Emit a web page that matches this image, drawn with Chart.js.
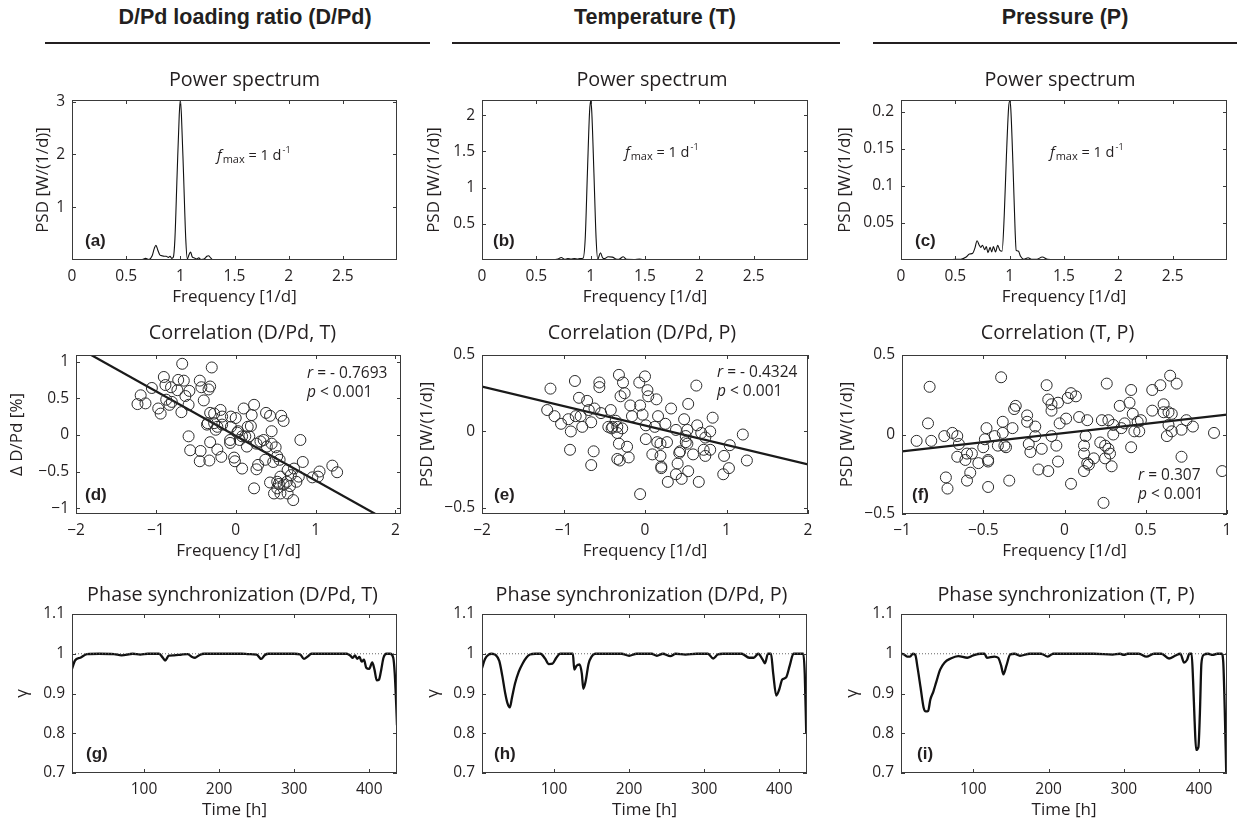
<!DOCTYPE html>
<html><head><meta charset="utf-8">
<script src="https://cdn.jsdelivr.net/npm/chart.js@4/dist/chart.umd.min.js"></script>
<style>
body{margin:0;background:#fff;width:1244px;height:820px;overflow:hidden;position:relative}
.hdr{position:absolute;top:5px;line-height:24px;font:bold 21.5px 'Liberation Sans',Arial,sans-serif;color:#231f20;transform:translateX(-50%);white-space:nowrap}
.rule{position:absolute;top:42px;height:2px;background:#231f20}
canvas{position:absolute}
</style></head><body>
<div class="hdr" style="left:245px">D/Pd loading ratio (D/Pd)</div>
<div class="hdr" style="left:655px">Temperature (T)</div>
<div class="hdr" style="left:1065px">Pressure (P)</div>
<div class="rule" style="left:45px;width:385px"></div>
<div class="rule" style="left:452px;width:388px"></div>
<div class="rule" style="left:873px;width:364px"></div>
<script>
// ---------- DATA ----------
const psdFreqTicks = [0, 0.5, 1, 1.5, 2, 2.5];
const psdTicksA = [1, 2, 3];
const psdTicksB = [0.5, 1, 1.5, 2];
const psdTicksC = [0.05, 0.1, 0.15, 0.2];
const corrTicksX2 = [-2, -1, 0, 1, 2];
const corrTicksX1 = [-1, -0.5, 0, 0.5, 1];
const corrTicksYD = [-1, -0.5, 0, 0.5, 1];
const corrTicksY5 = [-0.5, 0, 0.5];
const timeTicks = [100, 200, 300, 400];
const gammaTicks = [0.7, 0.8, 0.9, 1, 1.1];

// power spectra [frequency, PSD]
const psdA = [[0,0],[0.1,0],[0.2,0],[0.3,0.004],[0.33,0.01],[0.36,0.004],[0.42,0.002],[0.5,0.008],[0.55,0.003],[0.6,0.002],[0.65,0.01],[0.68,0.03],[0.71,0.01],[0.74,0.08],[0.76,0.22],[0.775,0.28],[0.79,0.2],[0.81,0.1],[0.83,0.08],[0.85,0.07],[0.87,0.07],[0.89,0.05],[0.905,0.07],[0.92,0.03],[0.935,0.05],[0.95,0.4],[0.97,1.6],[0.99,2.75],[1.0,3.03],[1.01,2.75],[1.03,1.6],[1.05,0.4],[1.065,0.02],[1.08,0.1],[1.095,0.15],[1.11,0.06],[1.13,0.04],[1.15,0.02],[1.17,0.04],[1.19,0.01],[1.22,0.02],[1.245,0.07],[1.26,0.08],[1.28,0.04],[1.3,0.005],[1.35,0.002],[1.45,0.01],[1.5,0.002],[1.6,0.01],[1.65,0.003],[1.7,0.008],[1.8,0.005],[1.85,0.001],[1.9,0],[2.0,0],[2.5,0],[3.0,0]];
const psdB = [[0,0],[0.2,0],[0.3,0.003],[0.4,0.001],[0.5,0.005],[0.55,0.002],[0.6,0.006],[0.65,0.004],[0.7,0.015],[0.73,0.035],[0.76,0.01],[0.79,0.02],[0.82,0.012],[0.85,0.02],[0.88,0.012],[0.9,0.02],[0.93,0.025],[0.95,0.3],[0.97,1.2],[0.99,2.05],[1.0,2.2],[1.01,2.05],[1.03,1.2],[1.05,0.3],[1.065,0.01],[1.09,0.1],[1.11,0.03],[1.13,0.02],[1.16,0.045],[1.2,0.04],[1.23,0.015],[1.26,0.01],[1.3,0.045],[1.33,0.008],[1.4,0.006],[1.45,0.012],[1.5,0.002],[1.6,0],[2,0],[3,0]];
const psdC = [[0,0],[0.3,0],[0.45,0.0005],[0.5,0.001],[0.55,0.001],[0.6,0.004],[0.63,0.008],[0.66,0.009],[0.68,0.016],[0.70,0.026],[0.72,0.02],[0.735,0.017],[0.75,0.02],[0.77,0.014],[0.785,0.018],[0.80,0.01],[0.82,0.017],[0.835,0.011],[0.85,0.018],[0.87,0.011],[0.89,0.02],[0.91,0.013],[0.93,0.012],[0.95,0.06],[0.97,0.14],[0.99,0.205],[1.0,0.215],[1.01,0.205],[1.03,0.13],[1.05,0.04],[1.06,0.013],[1.08,0.012],[1.1,0.005],[1.13,0.001],[1.17,0.003],[1.2,0.001],[1.25,0.001],[1.3,0.004],[1.35,0.001],[1.5,0],[3,0]];

// correlations [x, y]
const corrD = [[-0.67,0.97],[-0.30,0.92],[-0.90,0.79],[-0.72,0.75],[-0.65,0.74],[-0.45,0.74],[-1.05,0.64],[-0.88,0.68],[-0.81,0.65],[-0.73,0.61],[-0.58,0.60],[-0.43,0.65],[-0.34,0.62],[-0.32,0.66],[-1.19,0.54],[-1.23,0.42],[-1.13,0.43],[-0.97,0.36],[-0.94,0.29],[-0.87,0.48],[-0.83,0.41],[-0.80,0.45],[-0.63,0.53],[-0.59,0.41],[-0.68,0.31],[-0.40,0.47],[-0.32,0.30],[-0.27,0.29],[-0.19,0.34],[-0.17,0.25],[-0.06,0.25],[0.0,0.23],[0.10,0.36],[0.23,0.41],[0.20,0.27],[-0.35,0.16],[-0.27,0.16],[-0.36,0.14],[-0.23,0.11],[-0.17,0.14],[-0.25,0.07],[-0.06,0.11],[0.03,0.05],[0.15,0.11],[0.19,0.12],[0.38,0.30],[0.43,0.26],[0.57,0.26],[0.60,0.19],[0.45,0.05],[-0.59,-0.02],[-0.32,-0.10],[-0.07,-0.07],[-0.07,-0.11],[0.02,0.03],[0.12,-0.02],[0.17,-0.02],[0.14,-0.16],[0.26,-0.12],[0.35,-0.07],[0.39,-0.16],[0.45,-0.12],[0.50,-0.17],[0.81,-0.07],[-0.57,-0.21],[-0.44,-0.22],[-0.23,-0.20],[-0.18,-0.30],[-0.45,-0.36],[-0.33,-0.35],[-0.02,-0.31],[-0.01,-0.36],[0.08,-0.46],[0.28,-0.41],[0.26,-0.47],[0.37,-0.34],[0.47,-0.37],[0.52,-0.29],[0.55,-0.34],[0.65,-0.48],[0.69,-0.55],[0.73,-0.46],[0.79,-0.57],[0.84,-0.37],[0.76,-0.64],[0.64,-0.64],[0.56,-0.57],[0.54,-0.67],[0.43,-0.65],[0.52,-0.73],[0.48,-0.80],[0.56,-0.80],[0.65,-0.80],[0.72,-0.89],[0.23,-0.73],[0.60,-0.68],[0.52,-0.64],[0.96,-0.58],[1.05,-0.50],[1.03,-0.57],[1.21,-0.42],[1.27,-0.51],[0.68,-0.70],[0.08,-0.02],[0.05,-0.07],[0.31,-0.09]];
const corrE = [[-1.16,0.28],[-1.20,0.14],[-1.11,0.10],[-1.03,0.05],[-0.94,0.08],[-0.91,0.0],[-0.92,-0.12],[-0.86,0.33],[-0.85,0.10],[-0.81,0.22],[-0.79,0.10],[-0.77,0.03],[-0.71,0.20],[-0.69,0.14],[-0.66,0.06],[-0.63,-0.13],[-0.66,-0.22],[-0.62,0.15],[-0.56,0.32],[-0.56,0.29],[-0.54,0.12],[-0.45,0.03],[-0.42,0.14],[-0.40,0.03],[-0.41,0.02],[-0.36,0.07],[-0.34,0.03],[-0.34,-0.01],[-0.32,-0.08],[-0.34,-0.18],[-0.31,-0.19],[-0.32,0.37],[-0.27,0.32],[-0.30,0.23],[-0.25,0.25],[-0.28,0.02],[-0.22,-0.10],[-0.20,-0.17],[-0.18,0.17],[-0.16,0.10],[-0.06,0.17],[-0.07,0.32],[0.0,0.36],[0.03,0.27],[0.04,0.23],[-0.03,0.11],[0.01,0.04],[0.01,-0.05],[-0.06,-0.41],[0.09,-0.15],[0.14,0.21],[0.16,0.10],[0.12,0.03],[0.15,-0.07],[0.19,-0.08],[0.19,-0.16],[0.20,-0.23],[0.20,-0.24],[0.25,0.05],[0.27,-0.07],[0.28,-0.33],[0.32,0.15],[0.38,0.01],[0.40,-0.21],[0.42,-0.14],[0.43,-0.13],[0.45,-0.31],[0.38,-0.28],[0.48,0.08],[0.50,-0.03],[0.50,-0.07],[0.52,-0.08],[0.52,0.01],[0.53,-0.26],[0.59,-0.15],[0.53,0.18],[0.63,0.30],[0.64,0.04],[0.66,-0.33],[0.69,-0.01],[0.72,-0.12],[0.74,-0.16],[0.74,-0.04],[0.80,0.00],[0.80,-0.12],[0.83,0.09],[0.96,-0.28],[0.97,-0.16],[1.03,-0.24],[1.04,-0.09],[1.20,-0.02],[1.25,-0.19]];
const corrF = [[-0.91,-0.04],[-0.83,0.30],[-0.84,0.07],[-0.82,-0.04],[-0.74,-0.01],[-0.73,-0.27],[-0.72,-0.34],[-0.69,0.01],[-0.66,-0.01],[-0.65,-0.06],[-0.66,-0.14],[-0.61,-0.16],[-0.60,-0.29],[-0.60,-0.12],[-0.57,-0.12],[-0.58,-0.24],[-0.53,-0.18],[-0.50,-0.08],[-0.49,-0.03],[-0.48,0.04],[-0.47,-0.16],[-0.47,-0.33],[-0.47,-0.17],[-0.43,-0.01],[-0.41,-0.07],[-0.39,0.36],[-0.38,0.08],[-0.38,0.01],[-0.37,-0.07],[-0.36,-0.08],[-0.34,-0.29],[-0.32,0.04],[-0.31,0.16],[-0.30,0.18],[-0.23,0.12],[-0.23,0.08],[-0.22,-0.06],[-0.21,-0.11],[-0.18,0.05],[-0.18,-0.01],[-0.16,-0.22],[-0.14,-0.09],[-0.11,0.31],[-0.10,0.22],[-0.10,-0.23],[-0.08,0.19],[-0.08,0.15],[-0.08,-0.01],[-0.05,-0.07],[-0.04,-0.17],[-0.04,0.20],[-0.03,0.07],[0.01,0.10],[0.02,0.23],[0.04,0.26],[0.04,-0.31],[0.07,0.24],[0.09,0.11],[0.12,-0.07],[0.12,-0.12],[0.12,-0.23],[0.13,-0.01],[0.14,0.09],[0.14,-0.18],[0.15,-0.19],[0.18,-0.15],[0.22,-0.05],[0.23,0.09],[0.24,-0.43],[0.25,-0.07],[0.25,-0.15],[0.26,0.32],[0.27,0.09],[0.27,-0.09],[0.28,-0.12],[0.29,-0.20],[0.30,0.0],[0.30,0.06],[0.34,0.18],[0.35,0.04],[0.37,0.07],[0.40,0.20],[0.41,0.28],[0.41,-0.08],[0.42,0.13],[0.43,0.02],[0.45,0.08],[0.46,0.02],[0.47,0.09],[0.54,0.28],[0.54,0.15],[0.59,0.31],[0.61,0.19],[0.61,0.14],[0.63,-0.01],[0.64,0.06],[0.64,0.14],[0.65,0.37],[0.66,0.13],[0.66,0.02],[0.69,0.32],[0.72,-0.14],[0.72,0.03],[0.75,0.09],[0.79,0.05],[0.92,0.01],[0.97,-0.23]];
// fitted regression lines, visible end points [x, y]
const fitD = [[-1.81,1.09],[1.75,-1.08]];
const fitE = [[-2,0.294],[2,-0.216]];
const fitF = [[-1,-0.106],[1,0.125]];

// phase synchronization [time h, gamma]
const syncG = [[4,0.962],[8,0.983],[15,0.99],[24,0.999],[40,1.0],[60,0.999],[70,0.996],[85,1.0],[95,0.998],[105,1.0],[120,1.0],[125,0.99],[128,0.983],[133,0.995],[140,0.996],[150,0.998],[158,0.999],[164,0.992],[168,0.99],[174,0.997],[180,1.0],[230,1.0],[240,0.999],[250,0.998],[256,0.987],[261,0.997],[266,1.0],[300,1.0],[308,0.998],[313,0.987],[318,0.993],[323,1.0],[370,1.0],[375,0.995],[378,0.99],[381,0.996],[384,0.987],[387,0.992],[390,0.98],[393,0.985],[396,0.965],[400,0.962],[404,0.978],[407,0.96],[410,0.933],[413,0.935],[416,0.96],[419,0.99],[423,1.0],[428,1.0],[432,0.99],[434,0.95],[436,0.87],[437,0.82]];
const syncH = [[4,0.964],[8,0.987],[13,0.998],[17,1.0],[22,0.997],[27,0.982],[31,0.945],[35,0.9],[38,0.875],[41,0.865],[44,0.89],[48,0.925],[53,0.955],[58,0.975],[63,0.99],[68,0.998],[75,1.0],[82,1.0],[88,0.988],[93,0.974],[98,0.975],[103,0.99],[108,1.0],[118,1.0],[125,1.0],[127,0.96],[130,0.97],[134,0.973],[137,0.95],[139,0.912],[142,0.93],[146,0.975],[150,0.993],[155,1.0],[190,1.0],[200,0.995],[210,1.0],[230,1.0],[237,0.995],[245,1.0],[255,0.994],[262,1.0],[275,0.998],[290,1.0],[305,1.0],[312,0.988],[318,0.998],[325,1.0],[350,1.0],[360,0.99],[366,0.99],[372,1.0],[378,0.985],[381,0.976],[385,1.0],[389,1.0],[392,0.95],[396,0.895],[400,0.91],[404,0.935],[409,0.94],[414,0.97],[419,1.0],[432,1.0],[434,0.95],[436,0.8]];
const syncI = [[4,1.0],[8,0.998],[12,0.993],[16,0.993],[20,1.0],[23,0.997],[26,0.965],[30,0.915],[34,0.865],[37,0.855],[40,0.856],[43,0.885],[47,0.905],[51,0.93],[56,0.96],[62,0.978],[70,0.988],[80,0.994],[92,0.99],[100,0.996],[110,1.0],[115,1.0],[118,0.99],[128,0.993],[133,0.99],[137,0.97],[140,0.948],[144,0.97],[149,0.998],[155,1.0],[162,0.995],[175,1.0],[190,1.0],[199,0.993],[206,1.0],[260,1.0],[285,0.998],[295,1.0],[300,0.997],[305,1.0],[320,1.0],[330,0.993],[340,1.0],[350,1.0],[360,0.988],[368,0.995],[375,1.0],[380,0.978],[384,0.985],[387,1.0],[390,1.0],[392,0.93],[394,0.83],[396,0.758],[399,0.765],[401,0.85],[403,0.975],[406,0.997],[412,1.0],[418,0.997],[424,1.0],[430,1.0],[432,0.98],[434,0.86],[436,0.7]];
const syncRef = [[4,1],[437,1]];

// ---------- RENDERING ----------
const FONT = "'Open Sans', sans-serif";
const INK = '#231f20';
const TICK_PX = 15.5, AXT_PX = 17, TITLE_PX = 19.8, NOTE_PX = 15.5;
Chart.defaults.font.family = FONT;
Chart.defaults.font.size = TICK_PX;
Chart.defaults.color = INK;

const pts = a => a.map(p => ({x: p[0], y: p[1]}));
const fmt = v => String(+(+v).toFixed(3)).replace('-', '\u2212');

function drawFmax(ctx, x, y) {
  ctx.textAlign = 'left'; ctx.textBaseline = 'alphabetic';
  ctx.font = "italic 15px " + FONT; ctx.fillText('f', x, y); x += ctx.measureText('f').width + 1;
  ctx.font = "11px " + FONT; ctx.fillText('max', x, y + 3); x += ctx.measureText('max').width;
  ctx.font = "14.5px " + FONT; ctx.fillText(' = 1 d', x, y); x += ctx.measureText(' = 1 d').width + 1;
  ctx.font = "9px " + FONT; ctx.fillText('-1', x, y - 7);
}
function drawRP(ctx, x, y, rtxt) {
  ctx.textAlign = 'left'; ctx.textBaseline = 'alphabetic';
  const f = NOTE_PX + "px " + FONT;
  ctx.font = "italic " + f; ctx.fillText('r', x, y); let w = ctx.measureText('r').width;
  ctx.font = f; ctx.fillText(rtxt, x + w, y);
  ctx.font = "italic " + f; ctx.fillText('p', x, y + 19); w = ctx.measureText('p').width;
  ctx.font = f; ctx.fillText(' < 0.001', x + w, y + 19);
}

const framePlugin = {
  id: 'frame',
  afterDraw(chart, args, o) {
    const {ctx, chartArea: a, scales: {x, y}} = chart;
    ctx.save();
    ctx.strokeStyle = '#3a3a3a'; ctx.lineWidth = 1;
    ctx.beginPath();
    x.ticks.forEach(t => { const px = Math.round(x.getPixelForValue(t.value)) + 0.5;
      ctx.moveTo(px, a.bottom); ctx.lineTo(px, a.bottom - 4); ctx.moveTo(px, a.top); ctx.lineTo(px, a.top + 4); });
    y.ticks.forEach(t => { const py = Math.round(y.getPixelForValue(t.value)) + 0.5;
      ctx.moveTo(a.left, py); ctx.lineTo(a.left + 4, py); ctx.moveTo(a.right, py); ctx.lineTo(a.right - 4, py); });
    ctx.stroke();
    ctx.strokeRect(Math.round(a.left) + 0.5, Math.round(a.top) + 0.5, Math.round(a.width) - 1, Math.round(a.height) - 1);
    ctx.fillStyle = INK;
    ctx.font = TITLE_PX + "px " + FONT; ctx.textAlign = 'center'; ctx.textBaseline = 'middle';
    ctx.fillText(o.title, (a.left + a.right) / 2 + o.titleDx, a.top - o.titleDy);
    ctx.font = "bold 17px 'Liberation Sans', Arial, sans-serif"; ctx.textAlign = 'left';
    ctx.fillText(o.letter, a.left + o.letterDx, a.bottom - 19);
    if (o.fmax) drawFmax(ctx, a.left + o.fmax[0], a.top + o.fmax[1]);
    if (o.rp) drawRP(ctx, a.right + o.rp[0], a.top + o.rp[1], o.rp[2]);
    ctx.restore();
  }
};

function panel(p) {
  const [cl, ct, cw, ch] = p.canvas;
  const [pl, pt, pr, pb] = p.plot;
  const HX = 47;
  const cv = document.createElement('canvas');
  cv.width = cw; cv.height = ch;
  cv.style.left = cl + 'px'; cv.style.top = ct + 'px';
  cv.style.width = cw + 'px'; cv.style.height = ch + 'px';
  document.body.appendChild(cv);
  const tickSet = arr => s => { s.ticks = arr.map(v => ({value: v})); };
  const half = AXT_PX * 1.2 / 2;
  new Chart(cv, {
    type: 'line',
    data: {datasets: p.datasets},
    options: {
      responsive: false, animation: false, devicePixelRatio: 1,
      layout: {padding: {left: 0, top: pt - ct, right: cl + cw - pr, bottom: ct + ch - pb - HX}},
      plugins: {legend: {display: false}, tooltip: {enabled: false}, frame: p.frame},
      scales: {
        x: {type: 'linear', min: p.x[0], max: p.x[1],
            afterBuildTicks: tickSet(p.xt), afterFit: s => { s.height = HX; },
            grid: {display: false, drawTicks: false}, border: {display: false},
            ticks: {padding: 7, autoSkip: false, maxRotation: 0, callback: v => fmt(v), color: INK},
            title: {display: true, text: p.xTitle, color: INK, font: {size: AXT_PX}, padding: {top: 0, bottom: 0}}},
        y: {type: 'linear', min: p.y[0], max: p.y[1],
            afterBuildTicks: tickSet(p.yt), afterFit: s => { s.width = pl - cl; },
            grid: {display: false, drawTicks: false}, border: {display: false},
            ticks: {padding: 7, autoSkip: false, callback: v => fmt(v), color: INK},
            title: {display: true, text: p.yTitle, color: INK, font: {size: AXT_PX}, padding: {top: p.ytc - cl - half, bottom: 0}}}
      }
    },
    plugins: [framePlugin]
  });
}

const thin = d => ({data: pts(d), borderColor: '#111', borderWidth: 1.1, pointRadius: 0, cubicInterpolationMode: 'monotone', fill: false});
const thick = d => ({data: pts(d), borderColor: '#111', borderWidth: 2.3, pointRadius: 0, cubicInterpolationMode: 'monotone', fill: false});
const dots = d => ({type: 'scatter', data: pts(d), showLine: false, pointRadius: 5.5, pointStyle: 'circle', backgroundColor: 'rgba(0,0,0,0)', borderColor: '#2a2a2a', borderWidth: 1});
const fit = d => ({data: pts(d), borderColor: '#1a1a1a', borderWidth: 2.2, pointRadius: 0, tension: 0});
const ref = d => ({data: pts(d), borderColor: '#666', borderWidth: 1, borderDash: [1, 2], pointRadius: 0, tension: 0});

const PSD = 'PSD [W/(1/d)]', FREQ = 'Frequency [1/d]', TIME = 'Time [h]';

panel({canvas: [0, 60, 415, 250], plot: [72, 100, 397, 260], x: [0, 3], y: [0, 3.03], xt: psdFreqTicks, yt: psdTicksA,
  xTitle: FREQ, yTitle: PSD, ytc: 43, datasets: [thin(psdA)],
  frame: {title: 'Power spectrum', titleDx: 10, titleDy: 20, letter: '(a)', letterDx: 13, fmax: [145, 60]}});
panel({canvas: [415, 60, 415, 250], plot: [482, 100, 808, 260], x: [0, 3], y: [0, 2.21], xt: psdFreqTicks, yt: psdTicksB,
  xTitle: FREQ, yTitle: PSD, ytc: 434, datasets: [thin(psdB)],
  frame: {title: 'Power spectrum', titleDx: 7, titleDy: 20, letter: '(b)', letterDx: 11, fmax: [143, 57]}});
panel({canvas: [830, 60, 414, 250], plot: [901, 100, 1227, 260], x: [0, 3], y: [0, 0.216], xt: psdFreqTicks, yt: psdTicksC,
  xTitle: FREQ, yTitle: PSD, ytc: 845, datasets: [thin(psdC)],
  frame: {title: 'Power spectrum', titleDx: -4, titleDy: 20, letter: '(c)', letterDx: 14, fmax: [149, 57]}});

panel({canvas: [0, 310, 415, 255], plot: [76, 355, 401, 514], x: [-2, 2.07], y: [-1.08, 1.09], xt: corrTicksX2, yt: corrTicksYD,
  xTitle: FREQ, yTitle: '\u0394 D/Pd [%]', ytc: 17, datasets: [dots(corrD), fit(fitD)],
  frame: {title: 'Correlation (D/Pd, T)', titleDx: 4, titleDy: 22, letter: '(d)', letterDx: 9, rp: [-94, 23, ' = - 0.7693']}});
panel({canvas: [415, 310, 415, 255], plot: [482, 355, 808, 514], x: [-2, 2], y: [-0.54, 0.5], xt: corrTicksX2, yt: corrTicksY5,
  xTitle: FREQ, yTitle: PSD, ytc: 427, datasets: [dots(corrE), fit(fitE)],
  frame: {title: 'Correlation (D/Pd, P)', titleDx: -3, titleDy: 22, letter: '(e)', letterDx: 12, rp: [-91, 22, ' = - 0.4324']}});
panel({canvas: [830, 310, 414, 255], plot: [902, 355, 1227, 514], x: [-1, 1], y: [-0.5, 0.5], xt: corrTicksX1, yt: corrTicksY5,
  xTitle: FREQ, yTitle: PSD, ytc: 847, datasets: [dots(corrF), fit(fitF)],
  frame: {title: 'Correlation (T, P)', titleDx: -7, titleDy: 22, letter: '(f)', letterDx: 10, rp: [-89, 125, ' = 0.307']}});

panel({canvas: [0, 565, 415, 255], plot: [72, 614, 397, 773], x: [4, 437], y: [0.7, 1.1], xt: timeTicks, yt: gammaTicks,
  xTitle: TIME, yTitle: '\u03B3', ytc: 22, datasets: [ref(syncRef), thick(syncG)],
  frame: {title: 'Phase synchronization (D/Pd, T)', titleDx: -2, titleDy: 19, letter: '(g)', letterDx: 14}});
panel({canvas: [415, 565, 415, 255], plot: [482, 614, 807, 773], x: [4, 437], y: [0.7, 1.1], xt: timeTicks, yt: gammaTicks,
  xTitle: TIME, yTitle: '\u03B3', ytc: 433, datasets: [ref(syncRef), thick(syncH)],
  frame: {title: 'Phase synchronization (D/Pd, P)', titleDx: -3, titleDy: 19, letter: '(h)', letterDx: 12}});
panel({canvas: [830, 565, 414, 255], plot: [901, 614, 1227, 773], x: [4, 437], y: [0.7, 1.1], xt: timeTicks, yt: gammaTicks,
  xTitle: TIME, yTitle: '\u03B3', ytc: 852, datasets: [ref(syncRef), thick(syncI)],
  frame: {title: 'Phase synchronization (T, P)', titleDx: 2, titleDy: 19, letter: '(i)', letterDx: 16}});
</script>
</body></html>
